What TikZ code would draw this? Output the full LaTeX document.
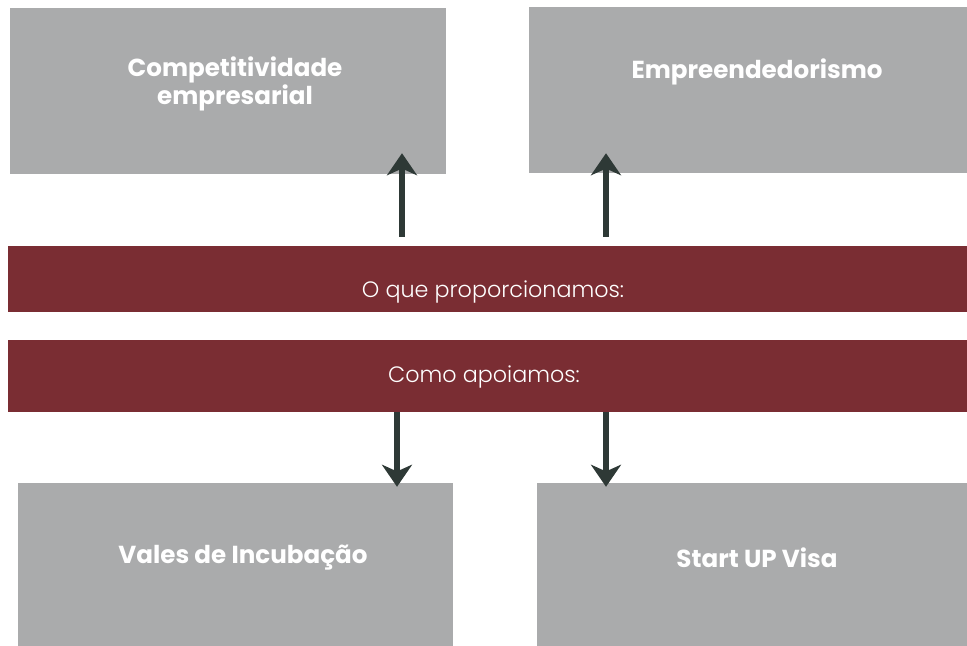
\documentclass[tikz,border=0pt]{standalone}
\usepackage{fontspec}
\setmainfont{Poppins}
\IfFontExistsTF{Poppins Light}{\newfontfamily\barfont{Poppins Light}}{\newfontfamily\barfont{Poppins}}
\usepackage{tikz}
\usetikzlibrary{positioning,arrows.meta,calc,fit}
\definecolor{boxgray}{RGB}{170,171,172}
\definecolor{barred}{RGB}{122,45,51}
\definecolor{arrdark}{RGB}{46,57,54}
\tikzset{
  box/.style={fill=boxgray, inner sep=0pt},
  bar/.style={fill=barred, inner sep=0pt},
  boxtext/.style={text=white, align=center, font=\bfseries\fontsize{21}{21.5}\selectfont},
  bartext/.style={text=white, font=\barfont\fontsize{19}{21}\selectfont},
  arr/.style={-{Stealth[length=6.6mm, width=9mm, inset=2mm]}, line width=2mm, draw=arrdark},
}

\begin{document}
\begin{tikzpicture}[x=0.3mm, y=-0.3mm]
    \useasboundingbox (0,0) rectangle (967,645);
    \clip (0,0) rectangle (967,645);
    % upper row
    \node[box, fit={(10,8) (446,174)}] (comp) {};
    \node[box, fit={(529,7) (985,173)}] (empr) {};
    \node[boxtext] (comp-t) at (235,84) {Competitividade\\empresarial};
    \node[boxtext] (empr-t) at (757,72) {Empreendedorismo};
    % bars
    \node[bar, fit={(8,246) (967,312)}] (prop) {};
    \node[bar, fit={(8,340) (967,412)}] (apoio) {};
    \node[bartext] (prop-t) at (493,292) {O que proporcionamos:};
    \node[bartext] (apoio-t) at (484,377) {Como apoiamos:};
    % lower row
    \node[box, fit={(18,483) (453,660)}] (vales) {};
    \node[box, fit={(537,483) (985,660)}] (visa) {};
    \node[boxtext] (vales-t) at (243,558) {Vales de Incubação};
    \node[boxtext] (visa-t) at (757,558) {Start UP Visa};
    % arrows
    \coordinate (up1) at (402,0);
    \coordinate (up2) at (606,0);
    \coordinate (dn1) at (397,0);
    \coordinate (dn2) at (606,0);
    \draw[arr, shorten <=2.7mm, shorten >=-6.3mm] (prop.north -| up1) -- (comp.south -| up1);
    \draw[arr, shorten <=2.7mm, shorten >=-6mm] (prop.north -| up2) -- (empr.south -| up2);
    \draw[arr, shorten >=-1.2mm] (apoio.south -| dn1) -- (vales.north -| dn1);
    \draw[arr, shorten >=-1.2mm] (apoio.south -| dn2) -- (visa.north -| dn2);
  \end{tikzpicture}
\end{document}
